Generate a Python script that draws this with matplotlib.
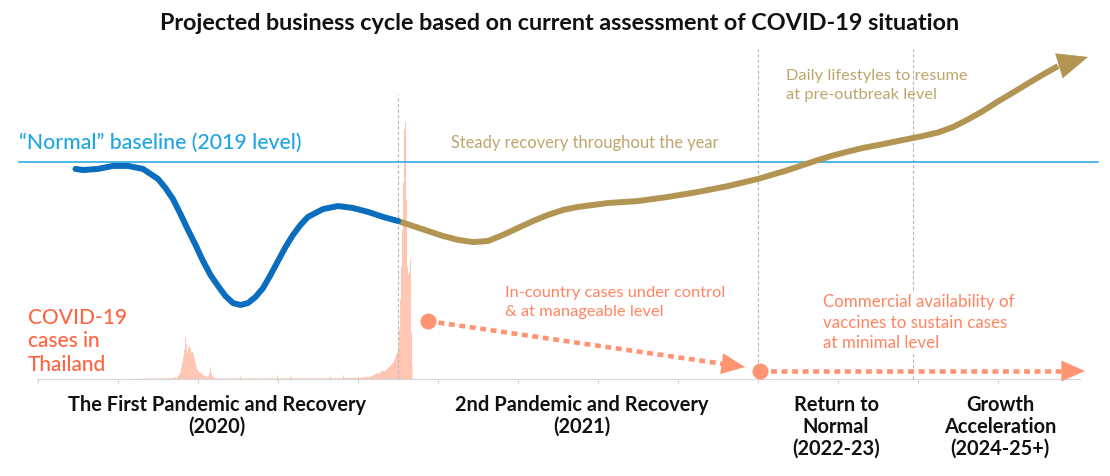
import numpy as np
import matplotlib
matplotlib.use('Agg')
import matplotlib.pyplot as plt

W, H = 1110, 477

# timeline position: months from Jan 2020 (2022 onward drawn compressed)
# activity index: 100 = "normal" 2019 level
blue_t = [1.25, 1.5, 2, 2.5, 3, 3.5, 4, 4.25, 4.5, 4.75, 5, 5.25, 5.5, 5.75, 6,
          6.25, 6.5, 6.75, 7, 7.25, 7.5, 7.75, 8, 8.25, 8.5, 8.75, 9, 9.5, 10,
          10.5, 11, 11.5, 12]
blue_v = [96.8, 96.3, 96.8, 98.2, 98.2, 96.8, 92.2, 88.0, 82.9, 76.0, 68.7, 61.8,
          54.4, 47.9, 42.9, 38.2, 35.0, 34.1, 35.0, 37.8, 41.9, 47.9, 54.4, 60.8,
          66.4, 71.0, 74.7, 78.3, 79.7, 78.8, 77.0, 74.7, 72.8]

gold_t = [12, 12.5, 13, 13.5, 14, 14.5, 15, 15.5, 16, 16.5, 17, 17.5, 18, 19, 20,
          21, 22, 23, 24, 25, 25.5, 26, 26.5, 27, 27.5, 28, 28.5, 29, 29.5, 30,
          30.5, 31, 31.5, 32, 32.5, 33, 33.5, 34, 35]
gold_v = [72.8, 70.5, 68.2, 65.9, 64.1, 63.1, 63.6, 66.4, 69.6, 72.8, 75.6, 77.9,
          79.3, 81.1, 82.0, 83.9, 86.2, 88.9, 92.2, 96.3, 98.6, 100.9, 103.0, 104.8,
          106.5, 107.8, 109.2, 110.6, 112.0, 113.6, 116.1, 119.6, 123.5, 127.9,
          132.0, 136.2, 140.3, 144.2, 148.4]

baseline = 100
phase_breaks = [12, 24, 29.17]
phase_tops = [131, 152, 152]

# daily COVID-19 cases (illustrative), first bar = day 92 of the timeline
case_day0 = 92
daily_cases = [
    1, 1, 2, 1, 2, 2, 1, 2, 2, 3, 2, 2, 3, 2, 3, 3, 2, 3, 3, 2, 3, 3, 3,
    2, 3, 3, 3, 3, 2, 3, 3, 3, 3, 3, 3, 3, 4, 3, 4, 4, 3, 4, 5, 5, 6, 7,
    # first wave
    3, 6, 12, 15, 21, 35, 50, 68, 88, 124, 103, 79, 94, 97, 91, 79, 82, 74, 62, 50,
    38, 29, 24, 21, 21, 18, 15, 12, 12, 9, 9, 6, 9, 18, 35, 15, 9, 6, 6, 3,
    # quiet months
    3, 3, 4, 3, 3, 3, 2, 3, 3, 4, 3, 3, 3, 3, 2, 3, 3, 3, 3, 4, 3, 3,
    3, 4, 9, 4, 3, 3, 3, 3, 3, 2, 3, 3, 3, 3, 4, 3, 3, 3, 3, 3, 2, 3,
    3, 3, 3, 4, 3, 3, 3, 3, 3, 3, 4, 3, 3, 3, 3, 3, 4, 12, 4, 3, 3, 3,
    3, 3, 3, 4, 3, 3, 3, 4, 9, 4, 3, 3, 3, 3, 4, 3, 3, 3, 3, 3, 4, 3,
    3, 3, 3, 3, 4, 3, 3, 3, 3, 4, 3, 3, 3, 3, 3, 4, 3, 3, 3, 3, 4, 3,
    3, 3, 4, 4, 9, 4, 3, 3, 4, 3, 3, 4, 3, 4, 4, 4, 4, 12, 4, 4, 4, 4,
    4, 4, 5, 4, 4, 5, 5, 4, 5, 5, 6, 5, 5, 6, 6, 6, 7, 7, 6, 9, 7, 7,
    # second wave
    9, 9, 12, 12, 15, 15, 18, 18, 18, 18, 21, 24, 26, 24, 24, 26, 29, 32, 35, 38,
    41, 44, 47, 50, 59, 65, 74, 82, 97, 147, 235, 332, 441, 579, 735, 756, 529,
    332, 309, 315, 353, 138, 44,
]

# projected case path: (start, arrow tip)
proj1_t, proj1_v = [13.0, 23.57], [26.7, 5.5]
proj2_t, proj2_v = [24.07, 34.9], [3.7, 3.7]

BLUE = '#0b6dbd'
GOLD = '#b39553'
GOLD_TXT = '#bfa56c'
SKY = '#1fa6e0'
SALMON = '#ff9473'
SALMON_TXT = '#ff8460'
RED_TXT = '#ff6440'
FONT = 'Lato'

fig = plt.figure(figsize=(W / 100, H / 100), dpi=100)
ax = fig.add_axes([0, 97 / H, 1, 340 / H])
ax.set_xlim(-38 / 30, (W - 38) / 30)
ax.set_ylim(0, 340 / 2.17)

# case histogram behind everything
ax2 = ax.twinx()
case_t = (case_day0 + np.arange(len(daily_cases))) / 30
ax2.fill_between(case_t, daily_cases, step='mid', color='#ffc6b4', lw=0)
ax2.set_ylim(0, 1000)
ax2.axis('off')
ax2.set_zorder(0)
ax.set_zorder(1)
ax.patch.set_visible(False)

for t, top in zip(phase_breaks, phase_tops):
    ax.plot([t, t], [0, top], color='#b8b8b8', lw=0.8, dashes=(3, 2), zorder=1)

ax.plot([-0.63, 35.33], [baseline, baseline], color=SKY, lw=1.1, zorder=2)

ax.plot(blue_t, blue_v, color=BLUE, lw=4.3, solid_capstyle='round',
        solid_joinstyle='round', zorder=4)
ax.plot(gold_t[:-1], gold_v[:-1], color=GOLD, lw=4.3, solid_capstyle='butt',
        solid_joinstyle='round', zorder=3)
ax.annotate('', xy=(gold_t[-1], gold_v[-1]), xytext=(gold_t[-2], gold_v[-2]),
            arrowprops=dict(arrowstyle='-|>,head_length=2.1,head_width=0.9',
                            color=GOLD, lw=0.5, mutation_scale=10,
                            shrinkA=0, shrinkB=0), zorder=3)

for pt, pv in [(proj1_t, proj1_v), (proj2_t, proj2_v)]:
    # stop the dotted shaft a bit short of the tip, head covers the rest
    end_t = pt[1] - (pt[1] - pt[0]) * 0.04
    end_v = pv[1] - (pv[1] - pv[0]) * 0.04
    ax.plot([pt[0], end_t], [pv[0], end_v], color=SALMON, lw=3.3,
            dashes=(1.3, 1.0), dash_capstyle='butt', zorder=3)
    ax.plot(pt[0], pv[0], 'o', color=SALMON, ms=11.5, mec='none', zorder=3)
    mid_t = pt[1] - (pt[1] - pt[0]) * 0.15
    mid_v = pv[1] - (pv[1] - pv[0]) * 0.15
    ax.annotate('', xy=(pt[1], pv[1]), xytext=(mid_t, mid_v),
                arrowprops=dict(arrowstyle='-|>,head_length=1.7,head_width=0.75',
                                color=SALMON, lw=0.01, mutation_scale=10,
                                shrinkA=0, shrinkB=0), zorder=3)

ax.set_yticks([])
ax.set_xticks(np.arange(0, 33, 8 / 3))
ax.tick_params(axis='x', length=3, width=0.8, color='#d0d0d0', labelbottom=False)
for s in ['top', 'left', 'right']:
    ax.spines[s].set_visible(False)
ax.spines['bottom'].set_color('#d6d6d6')
ax.spines['bottom'].set_linewidth(0.8)
ax.spines['bottom'].set_bounds(-0.03, 34.73)


def ftext(x, y, s, **kw):
    kw.setdefault('family', FONT)
    return fig.text(x / W, 1 - y / H, s, **kw)


ftext(560, 24, 'Projected business cycle based on current assessment of COVID-19 situation',
      ha='center', va='center', fontsize=16.8, weight='bold', color='#111111')
ftext(19, 143, '\u201cNormal\u201d baseline (2019 level)', ha='left', va='center',
      fontsize=15.3, weight='medium', color=SKY)
ftext(451, 143, 'Steady recovery throughout the year', ha='left', va='center',
      fontsize=11.9, color=GOLD_TXT)
ftext(786, 69, 'Daily lifestyles to resume\nat pre-outbreak level', ha='left', va='top',
      fontsize=11.8, color=GOLD_TXT, linespacing=1.48)
ftext(28, 308, 'COVID-19\ncases in\nThailand', ha='left', va='top',
      fontsize=15, weight='medium', color=RED_TXT, linespacing=1.21)
ftext(505, 286, 'In-country cases under control\n& at manageable level', ha='left',
      va='top', fontsize=11.8, color=SALMON_TXT, linespacing=1.44)
ftext(823, 294, 'Commercial availability of\nvaccines to sustain cases\nat minimal level',
      ha='left', va='top', fontsize=12.2, color=SALMON_TXT, linespacing=1.36,
      bbox=dict(facecolor='white', edgecolor='none', pad=1), zorder=5)

for x, s in [(217, 'The First Pandemic and Recovery\n(2020)'),
             (582, '2nd Pandemic and Recovery\n(2021)'),
             (836, 'Return to\nNormal\n(2022-23)'),
             (1000, 'Growth\nAcceleration\n(2024-25+)')]:
    ftext(x, 395, s, ha='center', va='top', fontsize=14.4, weight='bold',
          color='#111111', linespacing=1.12)

fig.savefig('out.png', dpi=100, facecolor='white')
